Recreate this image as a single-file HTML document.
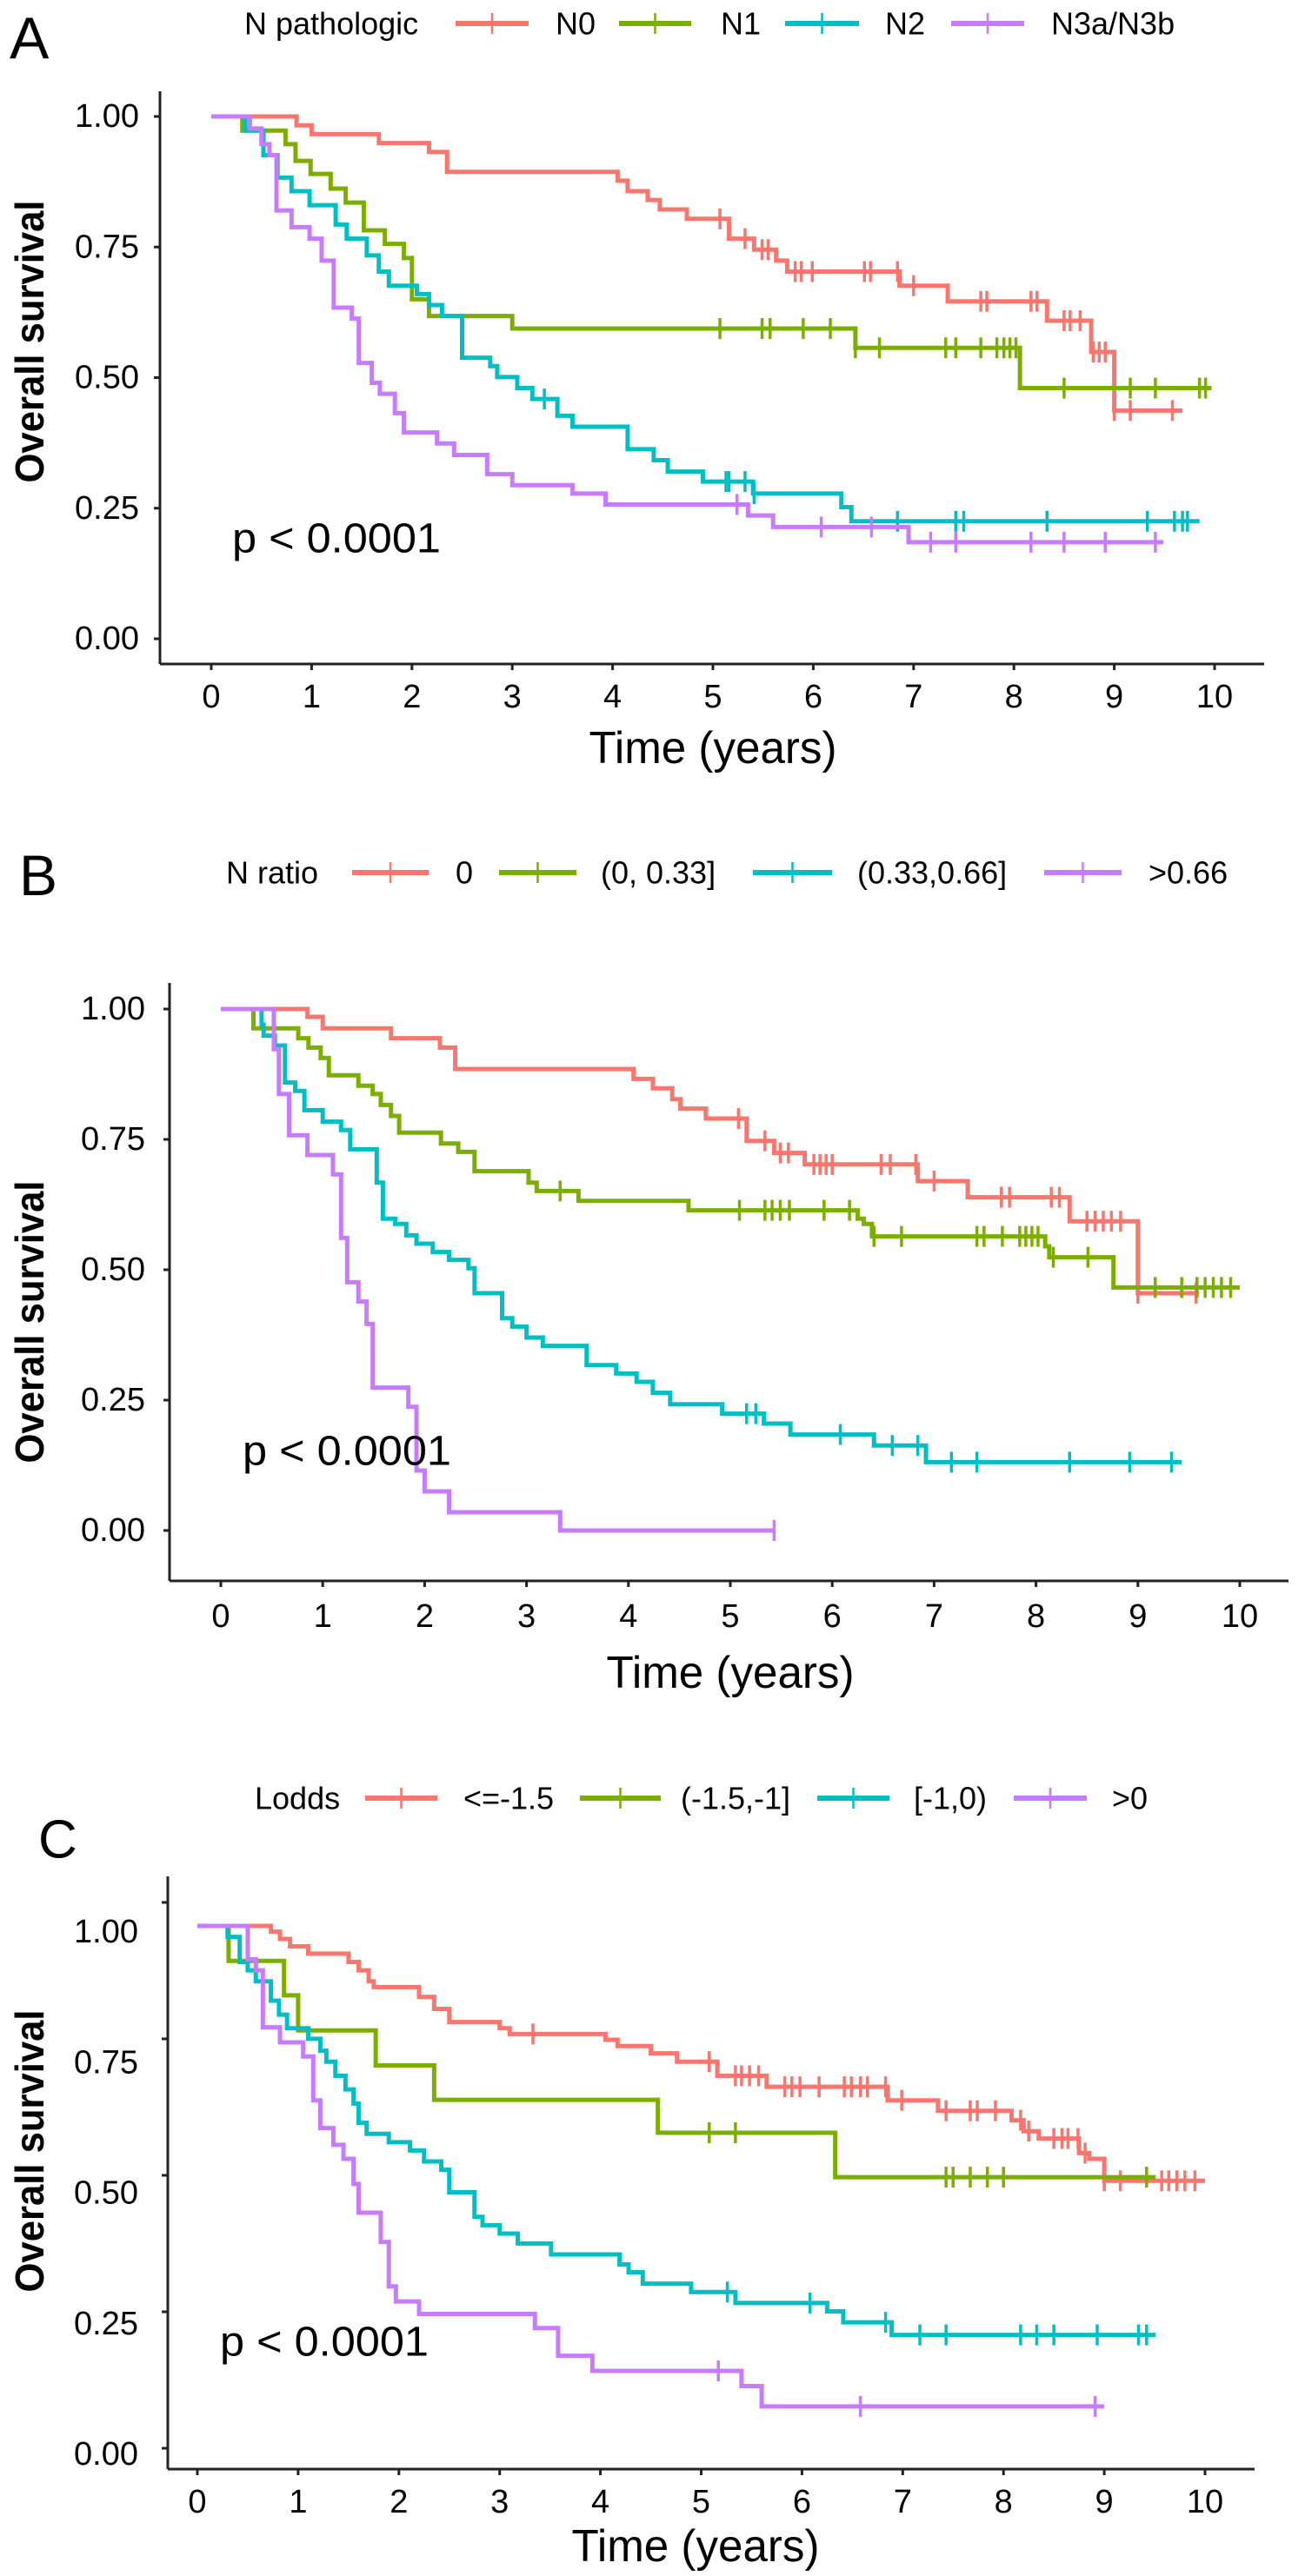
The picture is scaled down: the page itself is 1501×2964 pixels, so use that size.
<!DOCTYPE html>
<html><head><meta charset="utf-8"><title>Kaplan-Meier survival curves</title>
<style>
html,body{margin:0;padding:0;background:#fff;}
svg{display:block;font-family:"Liberation Sans",Arial,sans-serif;}
</style></head>
<body>
<svg id="fig" xmlns="http://www.w3.org/2000/svg" width="1501" height="2964" viewBox="0 0 1501 2964"></svg>
<script>
// ---------- DATA ----------
const xTicks = [0,1,2,3,4,5,6,7,8,9,10];
const yTicks = [0,0.25,0.5,0.75,1];
const yTickLabels = ["0.00","0.25","0.50","0.75","1.00"];

// Panel A: N pathologic
const aLabels = ["N0","N1","N2","N3a/N3b"];
const aN0T = [0,0.85,1.0,1.67,2.17,2.35,4.05,4.15,4.35,4.47,4.74,5.16,5.41,5.63,5.74,6.86,7.34,8.33,8.77,9.0];
const aN0S = [1,0.983,0.966,0.949,0.932,0.894,0.877,0.857,0.84,0.822,0.804,0.766,0.745,0.724,0.703,0.676,0.646,0.609,0.549,0.437];
const aN0C = [5.07,5.32,5.49,5.55,5.82,5.88,5.99,6.51,6.57,6.84,7.0,7.67,7.73,8.17,8.23,8.5,8.56,8.66,8.79,8.85,8.91,9.0,9.16,9.58];
const aN0End = 9.68;
const aN1T = [0,0.31,0.74,0.84,0.99,1.19,1.34,1.52,1.73,1.92,2.0,2.17,3.0,6.42,8.06];
const aN1S = [1,0.973,0.947,0.915,0.89,0.862,0.835,0.782,0.756,0.729,0.65,0.618,0.594,0.557,0.48];
const aN1C = [5.07,5.49,5.57,5.9,6.17,6.42,6.66,7.32,7.42,7.67,7.83,7.9,7.96,8.02,8.5,9.16,9.41,9.85,9.91];
const aN1End = 9.97;
const aN2T = [0,0.34,0.52,0.66,0.8,0.98,1.24,1.35,1.55,1.67,1.77,2.05,2.17,2.3,2.5,2.78,2.85,3.05,3.2,3.45,3.6,4.15,4.41,4.55,4.9,5.4,6.28,6.38];
const aN2S = [1,0.973,0.926,0.883,0.857,0.83,0.793,0.766,0.734,0.703,0.676,0.66,0.639,0.618,0.538,0.522,0.501,0.48,0.459,0.427,0.406,0.363,0.342,0.32,0.301,0.278,0.252,0.225];
const aN2C = [3.32,5.13,5.16,5.32,5.41,6.84,7.42,7.5,8.33,9.33,9.6,9.68,9.73];
const aN2End = 9.85;
const aN3T = [0,0.385,0.5,0.58,0.65,0.8,0.98,1.1,1.22,1.4,1.47,1.6,1.68,1.83,1.92,2.25,2.42,2.75,3.0,3.6,3.93,5.35,5.6,6.95];
const aN3S = [1,0.977,0.947,0.926,0.82,0.788,0.766,0.724,0.634,0.613,0.528,0.49,0.469,0.432,0.395,0.374,0.352,0.315,0.294,0.278,0.257,0.236,0.214,0.185];
const aN3C = [5.24,6.08,6.58,7.17,7.42,8.17,8.5,8.91,9.41];
const aN3End = 9.49;

// Panel B: N ratio
const bLabels = ["0","(0, 0.33]","(0.33,0.66]",">0.66"];
const b0T = [0,0.85,1.0,1.67,2.15,2.3,4.05,4.24,4.43,4.51,4.76,5.16,5.43,5.73,6.84,7.33,8.33,9.0];
const b0S = [1,0.985,0.963,0.944,0.926,0.885,0.866,0.848,0.827,0.809,0.79,0.747,0.724,0.702,0.67,0.639,0.593,0.455];
const b0C = [5.08,5.34,5.49,5.57,5.82,5.88,5.94,6.0,6.48,6.57,6.82,7.0,7.66,7.74,8.15,8.23,8.5,8.58,8.66,8.74,8.83,9.0,9.57];
const b0End = 9.6;
const b1T = [0,0.32,0.76,0.86,0.98,1.06,1.35,1.49,1.57,1.67,1.75,2.16,2.33,2.49,3.02,3.1,3.51,4.59,6.25,6.31,6.39,8.09,8.13,8.76];
const b1S = [1,0.963,0.944,0.926,0.906,0.873,0.853,0.837,0.816,0.795,0.763,0.742,0.726,0.689,0.667,0.651,0.632,0.614,0.598,0.588,0.564,0.545,0.524,0.466];
const b1C = [3.33,5.09,5.34,5.41,5.49,5.58,5.92,6.17,6.41,6.68,7.42,7.49,7.67,7.84,7.9,7.96,8.02,8.17,8.51,9.17,9.43,9.58,9.66,9.74,9.82,9.91];
const b1End = 10.0;
const b2T = [0,0.4,0.42,0.53,0.63,0.73,0.82,1.0,1.18,1.27,1.53,1.59,1.71,1.82,1.92,2.08,2.24,2.43,2.49,2.76,2.86,3.0,3.16,3.59,3.88,4.08,4.24,4.41,4.92,5.33,5.59,6.41,6.92];
const b2S = [1,0.97,0.949,0.93,0.859,0.843,0.806,0.784,0.768,0.731,0.667,0.598,0.588,0.566,0.55,0.534,0.519,0.503,0.455,0.407,0.391,0.37,0.354,0.317,0.301,0.285,0.264,0.242,0.224,0.205,0.184,0.163,0.131];
const b2C = [5.16,5.25,6.08,6.59,6.84,7.17,7.42,8.33,8.92,9.33];
const b2End = 9.43;
const b3T = [0,0.52,0.57,0.67,0.85,1.1,1.18,1.24,1.35,1.43,1.49,1.84,1.92,2.0,2.24,3.33];
const b3S = [1,0.923,0.837,0.758,0.72,0.683,0.561,0.476,0.439,0.396,0.274,0.237,0.115,0.075,0.035,0.0];
const b3C = [5.43];
const b3End = 5.43;

// Panel C: Lodds
const cLabels = ["<=-1.5","(-1.5,-1]","[-1,0)",">0"];
const c0T = [0,0.73,0.82,0.92,1.1,1.5,1.6,1.7,1.75,2.2,2.35,2.5,3.0,3.1,4.05,4.17,4.5,4.76,5.16,5.65,6.85,7.35,8.08,8.2,8.35,8.75,8.85,9.0];
const c0S = [1,0.989,0.975,0.961,0.947,0.931,0.915,0.894,0.883,0.864,0.841,0.816,0.804,0.793,0.782,0.77,0.756,0.74,0.713,0.692,0.666,0.646,0.628,0.607,0.593,0.565,0.554,0.512];
const c0C = [3.33,5.08,5.34,5.4,5.48,5.57,5.83,5.9,5.98,6.17,6.42,6.49,6.58,6.65,6.83,6.99,7.43,7.67,7.74,7.92,8.17,8.25,8.5,8.58,8.64,8.74,8.81,9.0,9.16,9.57,9.64,9.72,9.8,9.9];
const c0End = 10.0;
const c1T = [0,0.31,0.86,1.0,1.77,2.35,4.57,6.33];
const c1S = [1,0.933,0.867,0.8,0.733,0.667,0.604,0.519];
const c1C = [5.08,5.34,7.43,7.5,7.67,7.84,8.0,9.42];
const c1End = 9.51;
const c2T = [0,0.3,0.42,0.5,0.58,0.73,0.81,0.89,1.1,1.22,1.28,1.37,1.47,1.55,1.6,1.68,1.9,2.11,2.25,2.42,2.5,2.75,2.83,3.0,3.18,3.51,4.19,4.28,4.42,4.9,5.34,6.25,6.41,6.89];
const c2S = [1,0.979,0.931,0.915,0.894,0.857,0.83,0.804,0.784,0.761,0.74,0.713,0.687,0.66,0.623,0.602,0.586,0.57,0.549,0.533,0.49,0.443,0.427,0.411,0.392,0.371,0.352,0.337,0.315,0.299,0.278,0.262,0.241,0.217];
const c2C = [5.26,6.08,6.83,7.17,7.43,8.17,8.33,8.5,8.93,9.34,9.42];
const c2End = 9.51;
const c3T = [0,0.5,0.58,0.65,0.82,1.05,1.15,1.22,1.35,1.45,1.55,1.6,1.82,1.9,1.97,2.2,3.35,3.58,3.92,5.4,5.6];
const c3S = [1,0.936,0.915,0.806,0.777,0.75,0.666,0.613,0.581,0.554,0.506,0.451,0.395,0.31,0.281,0.257,0.23,0.177,0.148,0.119,0.08];
const c3C = [5.17,6.58,8.91];
const c3End = 9.0;

const colors = ["#F8766D","#7CAE00","#00BFC4","#C77CFF"];

// ---------- DRAWING ----------
const NS = "http://www.w3.org/2000/svg";
const svg = document.getElementById("fig");
function mk(tag, parent){ const e=document.createElementNS(NS,tag); parent.appendChild(e); return e; }
function txt(parent, x, y, s, size, anchor, weight){
  const t = mk("text", parent);
  t.setAttribute("x", x); t.setAttribute("y", y);
  t.setAttribute("font-size", size);
  t.setAttribute("text-anchor", anchor || "start");
  t.setAttribute("dominant-baseline", "central");
  if (weight) t.setAttribute("font-weight", weight);
  t.setAttribute("fill", "#000");
  t.textContent = s;
  return t;
}
function stepPath(T, S, end, X, Y){
  let d = "M" + X(T[0]) + "," + Y(S[0]);
  for (let i=1;i<T.length;i++){ d += " H" + X(T[i]) + " V" + Y(S[i]); }
  d += " H" + X(end);
  return d;
}
function survAt(T, S, t){ let s=S[0]; for(let i=0;i<T.length;i++){ if(T[i]<=t) s=S[i]; } return s; }

const panels = [
  { key:"a", letter:"A", letterX:11, letterY:44, letterSize:68,
    legendTitle:"N pathologic", legendY:27, legendSize:36, titleX:281,
    legendItems:[[524,608,639],[712,795,829],[903,988,1018],[1094,1178,1209]],
    labels:aLabels, series:[[aN0T,aN0S,aN0C,aN0End],[aN1T,aN1S,aN1C,aN1End],[aN2T,aN2S,aN2C,aN2End],[aN3T,aN3S,aN3C,aN3End]],
    x0:243, pxYr:115.4, y0:735, y1:134, axX:184, axTop:105, axY:764, axRight:1454,
    tickLabRight:160, xLabY:802, titleY:861, titleCx:820, ylabCy:393, pX:267, pY:620, yLabOff:0, yTickScale:1 },
  { key:"b", letter:"B", letterX:22, letterY:1007, letterSize:66,
    legendTitle:"N ratio", legendY:1004, legendSize:36, titleX:260,
    legendItems:[[405,493,524],[574,663,691],[866,957,986],[1201,1290,1321]],
    labels:bLabels, series:[[b0T,b0S,b0C,b0End],[b1T,b1S,b1C,b1End],[b2T,b2S,b2C,b2End],[b3T,b3S,b3C,b3End]],
    x0:254, pxYr:117.2, y0:1761, y1:1161, axX:195, axTop:1131, axY:1819, axRight:1482,
    tickLabRight:167, xLabY:1860, titleY:1925, titleCx:840, ylabCy:1521, pX:279, pY:1670, yLabOff:0, yTickScale:1 },
  { key:"c", letter:"C", letterX:44, letterY:2117, letterSize:62,
    legendTitle:"Lodds", legendY:2069, legendSize:36, titleX:293,
    legendItems:[[420,503,533],[667,760,783],[940,1023,1051],[1166,1250,1279]],
    labels:cLabels, series:[[c0T,c0S,c0C,c0End],[c1T,c1S,c1C,c1End],[c2T,c2S,c2C,c2End],[c3T,c3S,c3C,c3End]],
    x0:227, pxYr:115.9, y0:2817, y1:2216, axX:193, axTop:2159, axY:2841, axRight:1443,
    tickLabRight:159, xLabY:2879, titleY:2930, titleCx:800, ylabCy:2475, pX:253, pY:2695, yLabOff:7, yTickScale:1.045 }
];

panels.forEach(p => {
  const X = t => p.x0 + t * p.pxYr;
  const Y = s => p.y0 - s * (p.y0 - p.y1);
  const g = mk("g", svg);
  
  

  const L = txt(g, p.letterX, p.letterY, p.letter, p.letterSize);
  
  

  // legend
  const lg = mk("g", g);
  
  
  const lt = txt(lg, p.titleX, p.legendY, p.legendTitle, p.legendSize);
  
  
  p.legendItems.forEach((it, i) => {
    const eg = mk("g", lg);
    
    
    const ln = mk("line", eg);
    ln.setAttribute("x1", it[0]); ln.setAttribute("x2", it[1]);
    ln.setAttribute("y1", p.legendY); ln.setAttribute("y2", p.legendY);
    ln.setAttribute("stroke", colors[i]); ln.setAttribute("stroke-width", 6);
    const tk = mk("line", eg);
    const cx = (it[0]+it[1])/2;
    tk.setAttribute("x1", cx); tk.setAttribute("x2", cx);
    tk.setAttribute("y1", p.legendY-12); tk.setAttribute("y2", p.legendY+12);
    tk.setAttribute("stroke", colors[i]); tk.setAttribute("stroke-width", 2.5);
    txt(eg, it[2], p.legendY, p.labels[i], p.legendSize);
  });

  // axes
  const ax = mk("g", g);
  
  
  const yl = mk("line", ax);
  yl.setAttribute("x1", p.axX); yl.setAttribute("x2", p.axX);
  yl.setAttribute("y1", p.axTop); yl.setAttribute("y2", p.axY);
  yl.setAttribute("stroke", "#222"); yl.setAttribute("stroke-width", 3);
  const xl = mk("line", ax);
  xl.setAttribute("x1", p.axX); xl.setAttribute("x2", p.axRight);
  xl.setAttribute("y1", p.axY); xl.setAttribute("y2", p.axY);
  xl.setAttribute("stroke", "#222"); xl.setAttribute("stroke-width", 3);

  yTicks.forEach((v, i) => {
    const ty = Y(v * p.yTickScale);
    const tk = mk("line", ax);
    tk.setAttribute("x1", p.axX-7); tk.setAttribute("x2", p.axX);
    tk.setAttribute("y1", ty); tk.setAttribute("y2", ty);
    tk.setAttribute("stroke", "#222"); tk.setAttribute("stroke-width", 3);
    const lb = txt(ax, p.tickLabRight, Y(v) + p.yLabOff, yTickLabels[i], 38, "end");
    
    
  });
  xTicks.forEach(v => {
    const tx = X(v);
    const tk = mk("line", ax);
    tk.setAttribute("x1", tx); tk.setAttribute("x2", tx);
    tk.setAttribute("y1", p.axY); tk.setAttribute("y2", p.axY+7);
    tk.setAttribute("stroke", "#222"); tk.setAttribute("stroke-width", 3);
    const lb = txt(ax, tx, p.xLabY, String(v), 38, "middle");
    
    
  });
  const xt = txt(ax, p.titleCx, p.titleY, "Time (years)", 52, "middle");
  xt.setAttribute("textLength", 285); xt.setAttribute("lengthAdjust", "spacingAndGlyphs");
  
  
  const yt = txt(ax, 0, 0, "Overall survival", 46, "middle", "bold");
  yt.setAttribute("transform", "translate(34," + p.ylabCy + ") rotate(-90)");
  yt.setAttribute("textLength", 325); yt.setAttribute("lengthAdjust", "spacingAndGlyphs");
  
  

  // series
  p.series.forEach((sr, i) => {
    const [T, S, C, end] = sr;
    const sg = mk("g", g);
    
    
    const path = mk("path", sg);
    path.setAttribute("d", stepPath(T, S, end, X, Y));
    path.setAttribute("fill", "none");
    path.setAttribute("stroke", colors[i]);
    path.setAttribute("stroke-width", 5);
    C.forEach(ct => {
      const m = mk("line", sg);
      
      
      const cx = X(ct), cy = Y(survAt(T, S, ct));
      m.setAttribute("x1", cx); m.setAttribute("x2", cx);
      m.setAttribute("y1", cy-12); m.setAttribute("y2", cy+12);
      m.setAttribute("stroke", colors[i]); m.setAttribute("stroke-width", 3.5);
    });
  });

  const pv = mk("text", g);
  pv.setAttribute("x", p.pX); pv.setAttribute("y", p.pY);
  pv.setAttribute("font-size", 48);
  pv.setAttribute("dominant-baseline", "central");
  pv.setAttribute("textLength", 240); pv.setAttribute("lengthAdjust", "spacingAndGlyphs");
  pv.textContent = "p < 0.0001";
  
  
});
</script>
</body></html>
